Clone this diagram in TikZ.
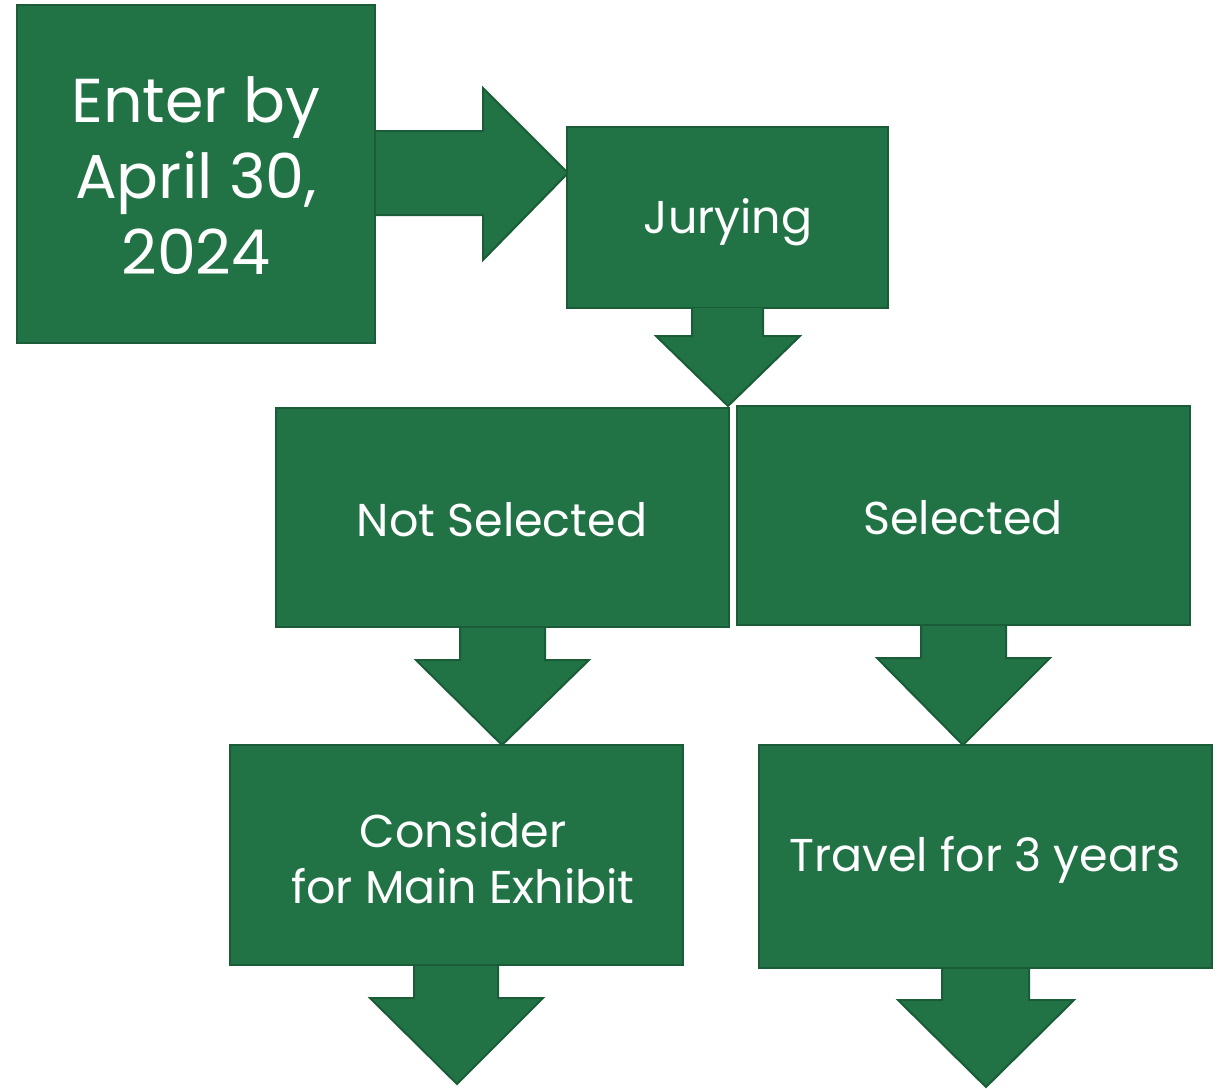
\documentclass[tikz,border=0pt]{standalone}
\usepackage{fontspec}
\setmainfont{Poppins}
\definecolor{gfill}{HTML}{217346}
\definecolor{gline}{HTML}{1A5C37}
\begin{document}
\begin{tikzpicture}[x=1pt,y=-1pt,
  shp/.style={fill=gfill,draw=gline,line width=2pt,line join=miter},
  txt/.style={text=white,align=center,font=\fontsize{46}{56}\selectfont}]
\useasboundingbox (0,0) rectangle (1218,1088);
% right arrow
\draw[shp] (375,131) -- (483,131) -- (483,88) -- (568,173) -- (483,260) -- (483,215) -- (375,215);
% box 1
\draw[shp] (17,5) rectangle (375,343);
\node[txt,font=\fontsize{62}{76}\selectfont] (enter) at (196,176) {Enter by\\April 30,\\2024};
% box 2
\draw[shp] (567,127) rectangle (888,308);
\node[txt] (jury) at (728,222) {Jurying};
% down arrow 1
\draw[shp] (692,308) -- (692,336) -- (656,336) -- (728,406) -- (800,336) -- (763,336) -- (763,308);
% down arrow 2,3
\draw[shp] (460,627) -- (460,660) -- (416,660) -- (502,745) -- (589,660) -- (545,660) -- (545,627);
\draw[shp] (921,625) -- (921,658) -- (877,658) -- (963,745) -- (1050,658) -- (1006,658) -- (1006,625);
% boxes 3,4
\draw[shp] (276,408) rectangle (729,627);
\node[txt] (not) at (502,520) {Not Selected};
\draw[shp] (737,406) rectangle (1190,625);
\node[txt] (sel) at (963,518) {Selected};
% down arrows 4,5
\draw[shp] (414,965) -- (414,998) -- (370,998) -- (457,1084) -- (543,998) -- (498,998) -- (498,965);
\draw[shp] (942,968) -- (942,1000) -- (898,1000) -- (986,1087) -- (1074,1000) -- (1029,1000) -- (1029,968);
% boxes 5,6
\draw[shp] (230,745) rectangle (683,965);
\node[txt] (cons) at (463,858) {Consider\\for Main Exhibit};
\draw[shp] (759,745) rectangle (1212,968);
\node[txt] (trav) at (985,860) {Travel for 3 years};
\end{tikzpicture}
\end{document}
